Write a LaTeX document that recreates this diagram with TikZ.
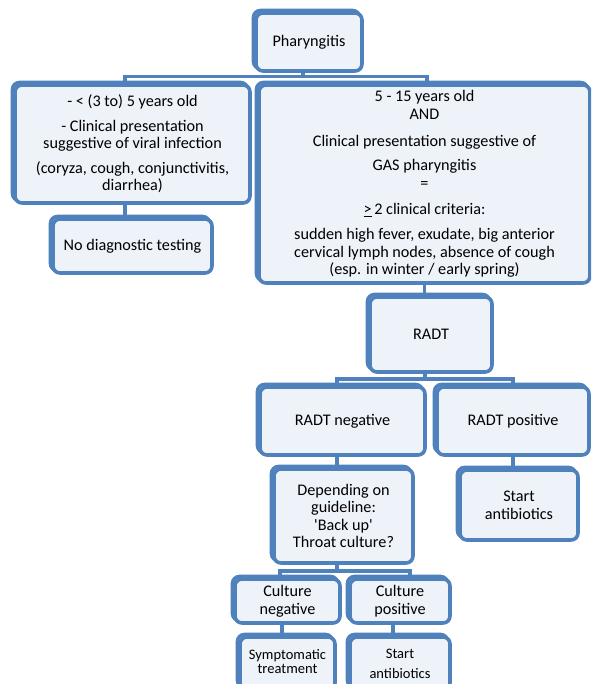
\documentclass[tikz,border=0pt]{standalone}
\usepackage{fontspec}
\setmainfont{Carlito}
\definecolor{boxblue}{RGB}{79,129,189}
\definecolor{boxfill}{RGB}{238,242,249}
\newcommand{\fsmain}{\fontsize{16.2}{17.6}\selectfont}
\newcommand{\fssmall}{\fontsize{14.5}{17}\selectfont}
\tikzset{
  box/.style={rectangle, rounded corners=7pt, draw=boxblue, line width=3.6pt,
    fill=boxfill, align=center, inner sep=1pt, font=\fsmain, text=black,
    preaction={draw=boxblue, line width=3.6pt, transform canvas={shift={(-2.5pt,2.5pt)}}}},
  conn/.style={draw=boxblue, line width=3.4pt},
}
\begin{document}
\begin{tikzpicture}[x=1pt,y=-1pt]
\clip (0,0) rectangle (591,684);
\fill[white] (0,0) rectangle (591,684);

\node[box, minimum width=106pt, minimum height=58pt] (ph) at (309,42) {Pharyngitis};

\node[box, minimum width=235pt, minimum height=118pt] (lft) at (132.5,144)
  {- < (3 to) 5 years old\\[7pt]
   - Clinical presentation\\
   suggestive of viral infection\\[7pt]
   (coryza, cough, conjunctivitis,\\
   diarrhea)};

\node[box, minimum width=159pt, minimum height=54pt] (nodiag) at (132.5,246) {No diagnostic testing};

\node[box, minimum width=331pt, minimum height=198pt] (rgt) at (424.5,184)
  {5 - 15 years old\\
   AND\\[9pt]
   Clinical presentation suggestive of\\[7pt]
   GAS pharyngitis\\
   =\\[9pt]
   \underline{>}\,2 clinical criteria:\\[7pt]
   sudden high fever, exudate, big anterior\\
   cervical lymph nodes, absence of cough\\
   (esp. in winter / early spring)};

\node[box, minimum width=122pt, minimum height=75pt] (radt) at (431,334.5) {RADT};

\node[box, minimum width=165pt, minimum height=68pt] (neg) at (342.5,421) {RADT negative};
\node[box, minimum width=152pt, minimum height=68pt] (pos) at (513,421) {RADT positive};

\node[box, minimum width=139pt, minimum height=94pt] (dep) at (343.5,516)
  {Depending on\\ guideline:\\ \textquotesingle Back up\textquotesingle\\ Throat culture?};
\node[box, minimum width=118pt, minimum height=70pt] (sa1) at (519,505) {Start\\ antibiotics};

\node[box, minimum width=105pt, minimum height=44pt] (cneg) at (287.5,601) {Culture\\ negative};
\node[box, minimum width=100pt, minimum height=44pt] (cpos) at (400,601) {Culture\\ positive};

\node[box, minimum width=95pt, minimum height=53pt, font=\fssmall] (symp) at (287.5,663.5) {\raisebox{4pt}{\shortstack{Symptomatic\\treatment}}};
\node[box, minimum width=100pt, minimum height=53pt, font=\fssmall] (sa2) at (400,663.5) {Start\\[3pt] antibiotics};

% connectors
\draw[conn] ([xshift=-6pt]ph.south) -- ++(0,4) coordinate (j1);
\draw[conn] ([xshift=-7.5pt]lft.north) |- (j1) -| ([xshift=2.5pt]rgt.north);
\draw[conn] ([xshift=-7.5pt]lft.south) -- ([xshift=-7.5pt]lft.south |- nodiag.north);
\draw[conn] (rgt.south) -- (rgt.south |- radt.north);
\draw[conn] ([xshift=-6pt]radt.south) -- ++(0,5) coordinate (j2);
\draw[conn] ([xshift=-5.5pt]neg.north) |- (j2) -| (pos.north);
\draw[conn] ([xshift=-5.5pt]neg.south) -- ([xshift=-5.5pt]neg.south |- dep.north);
\draw[conn] (pos.south) -- (pos.south |- sa1.north);
\draw[conn] ([xshift=-6.5pt]dep.south) -- ++(0,6) coordinate (j3);
\draw[conn] ([xshift=-7.5pt]cneg.north) |- (j3) -| ([xshift=10pt]cpos.north);
\draw[conn] ([xshift=-5.5pt]cneg.south) -- ([xshift=-5.5pt]cneg.south |- symp.north);
\draw[conn] ([xshift=-7pt]cpos.south) -- ([xshift=-7pt]cpos.south |- sa2.north);
\end{tikzpicture}
\end{document}
